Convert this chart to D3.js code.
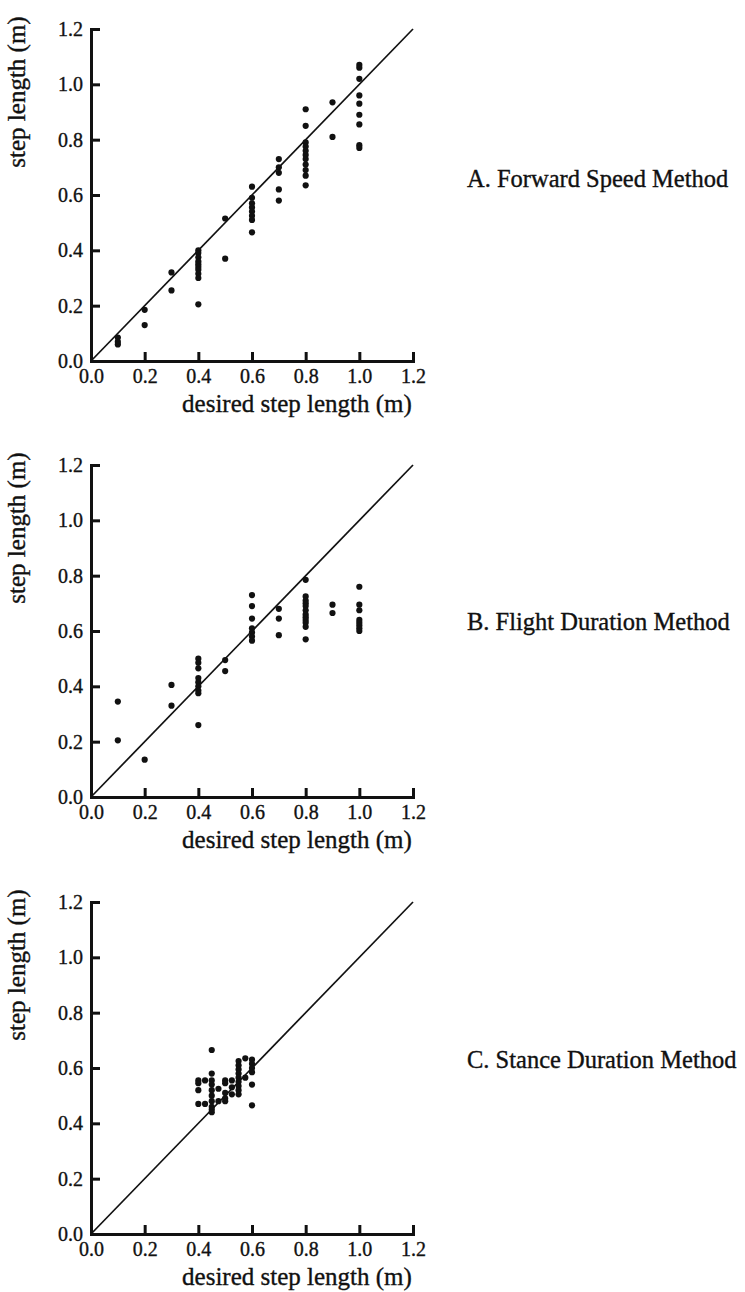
<!DOCTYPE html>
<html>
<head>
<meta charset="utf-8">
<script src="https://cdn.jsdelivr.net/npm/d3@7/dist/d3.min.js"></script>
<style>
  body { margin: 0; background: #fff; }
  svg { display: block; }
  text { font-family: "Liberation Serif", "Times New Roman", serif; fill: #111; stroke: #111; stroke-width: 0.35; }
  .domain { stroke: #111; stroke-width: 3; }
  .tick line { stroke: #111; stroke-width: 3; }
</style>
</head>
<body>
<script>
// desired step length vs. measured step length, three control methods

const tickValues = [0, 0.2, 0.4, 0.6, 0.8, 1.0, 1.2];
const panelTitles = ['A. Forward Speed Method', 'B. Flight Duration Method', 'C. Stance Duration Method'];

const forwardDesired = [0.1, 0.2, 0.3, 0.4, 0.5, 0.6, 0.7, 0.8, 0.9, 1.0];
const forwardMeasured = [
  [0.085, 0.07, 0.06],
  [0.185, 0.13],
  [0.32, 0.255],
  [0.40, 0.39, 0.375, 0.36, 0.35, 0.34, 0.33, 0.315, 0.30, 0.205],
  [0.515, 0.37],
  [0.63, 0.59, 0.57, 0.555, 0.54, 0.525, 0.51, 0.465],
  [0.73, 0.70, 0.68, 0.62, 0.58],
  [0.91, 0.85, 0.79, 0.775, 0.76, 0.745, 0.73, 0.71, 0.69, 0.67, 0.635],
  [0.935, 0.81],
  [1.07, 1.06, 1.02, 0.96, 0.93, 0.89, 0.855, 0.78, 0.77]
];

const flightDesired = [0.1, 0.2, 0.3, 0.4, 0.5, 0.6, 0.7, 0.8, 0.9, 1.0];
const flightMeasured = [
  [0.345, 0.205],
  [0.135],
  [0.405, 0.33],
  [0.50, 0.485, 0.465, 0.43, 0.415, 0.40, 0.385, 0.375, 0.26],
  [0.495, 0.455],
  [0.73, 0.69, 0.645, 0.61, 0.595, 0.58, 0.565],
  [0.68, 0.645, 0.585],
  [0.785, 0.725, 0.71, 0.70, 0.69, 0.675, 0.66, 0.65, 0.64, 0.63, 0.615, 0.57],
  [0.695, 0.665],
  [0.76, 0.695, 0.675, 0.64, 0.63, 0.62, 0.61, 0.60]
];

const stanceDesired = [0.4, 0.425, 0.45, 0.475, 0.5, 0.525, 0.55, 0.575, 0.6];
const stanceMeasured = [
  [0.555, 0.545, 0.52, 0.47],
  [0.555, 0.47],
  [0.665, 0.58, 0.555, 0.54, 0.52, 0.50, 0.48, 0.46, 0.45, 0.44],
  [0.525, 0.48],
  [0.555, 0.545, 0.51, 0.49, 0.48],
  [0.555, 0.53, 0.505],
  [0.625, 0.61, 0.595, 0.58, 0.565, 0.55, 0.535, 0.52, 0.505],
  [0.635, 0.565],
  [0.63, 0.615, 0.60, 0.585, 0.54, 0.465]
];

const panels = [
  { desired: forwardDesired, measured: forwardMeasured, top: 29, labelDy: 158 },
  { desired: flightDesired, measured: flightMeasured, top: 465, labelDy: 165 },
  { desired: stanceDesired, measured: stanceMeasured, top: 902, labelDy: 166 }
];

const width = 745;
const height = 1292;
const left = 91;
const plotW = 322;
const plotH = 332;

const svg = d3.select('body').append('svg')
  .attr('width', width)
  .attr('height', height);

const x = d3.scaleLinear().domain([0, 1.2]).range([0, plotW]);
const y = d3.scaleLinear().domain([0, 1.2]).range([plotH, 0]);
const fmt = d3.format('.1f');

panels.forEach((p, i) => {
  const g = svg.append('g')
    .attr('transform', `translate(${left},${p.top})`);

  // identity line
  g.append('line')
    .attr('x1', x(0)).attr('y1', y(0))
    .attr('x2', x(1.2)).attr('y2', y(1.2))
    .attr('stroke', '#111')
    .attr('stroke-width', 1.7);

  g.append('g')
    .attr('transform', `translate(0,${plotH})`)
    .call(d3.axisBottom(x)
      .tickValues(tickValues)
      .tickFormat(fmt)
      .tickSizeInner(-9)
      .tickSizeOuter(0)
      .tickPadding(8))
    .call(a => a.selectAll('text').attr('font-size', 20));

  g.append('g')
    .call(d3.axisLeft(y)
      .tickValues(tickValues)
      .tickFormat(fmt)
      .tickSizeInner(-9)
      .tickSizeOuter(0)
      .tickPadding(8))
    .call(a => a.selectAll('text').attr('font-size', 20));

  g.selectAll('.domain').attr('stroke-linecap', 'square');

  const pts = p.desired.flatMap((d, j) => p.measured[j].map(v => ({ d, v })));

  g.append('g')
    .selectAll('circle')
    .data(pts)
    .enter().append('circle')
    .attr('cx', d => x(d.d))
    .attr('cy', d => y(d.v))
    .attr('r', 3.1)
    .attr('fill', '#111');

  g.append('text')
    .attr('x', plotW / 2 + 45)
    .attr('y', plotH + 51)
    .attr('text-anchor', 'middle')
    .attr('font-size', 25)
    .text('desired step length (m)');

  g.append('text')
    .attr('transform', `translate(${-66},${63}) rotate(-90)`)
    .attr('text-anchor', 'middle')
    .attr('font-size', 25)
    .text('step length (m)');

  svg.append('text')
    .attr('x', 467)
    .attr('y', p.top + p.labelDy)
    .attr('font-size', 24.5)
    .text(panelTitles[i]);
});
</script>
</body>
</html>
